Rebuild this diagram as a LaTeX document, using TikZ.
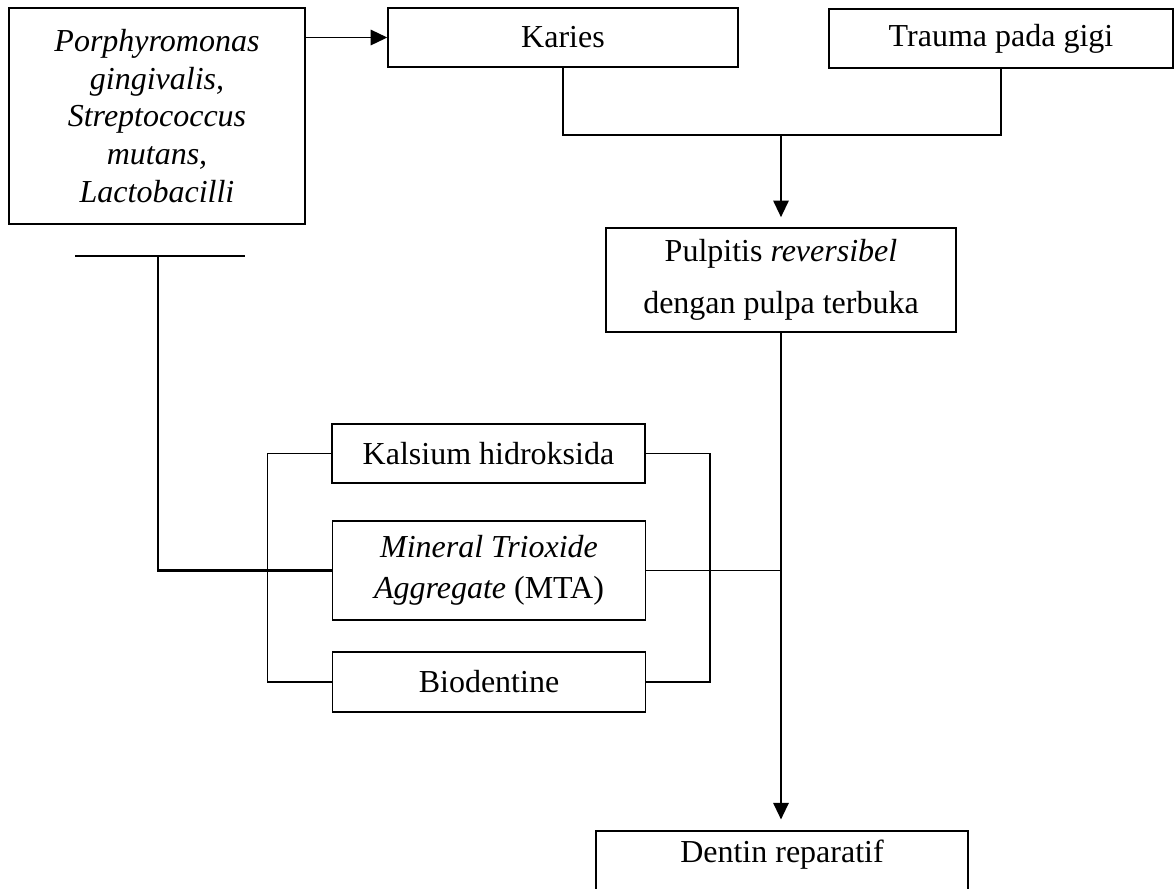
\documentclass[tikz,border=0pt]{standalone}
\usepackage{fontspec}
\setmainfont{Liberation Serif}
\usetikzlibrary{positioning}
\usetikzlibrary{arrows.meta}

\begin{document}
\begin{tikzpicture}
    [
    x=0.375pt, y=-0.375pt,
    box/.style = {draw, line width=0.55pt, align=center, inner sep=0pt, font=\fontsize{12}{14}\selectfont},
    link/.style = {line width=0.55pt},
    arr/.style = {link, -{Triangle[length=6.2pt,width=5.8pt]}}
    ]
\useasboundingbox (0,0) rectangle (1174,888);

\node[box, minimum width=111pt, minimum height=81pt, font=\fontsize{12}{14.1}\selectfont] (bact) at (157,116)
    {\itshape Porphyromonas\\ \itshape gingivalis,\\ \itshape Streptococcus\\ \itshape mutans,\\ \itshape Lactobacilli};
\node[box, minimum width=131.25pt, minimum height=22.1pt] (kar) at (563,37.5) {Karies};
\node[box, minimum width=129pt, minimum height=22.1pt] (trauma) at (1001,38.5) {Trauma pada gigi};
\node[box, minimum width=131.25pt, minimum height=39pt, font=\fontsize{12}{19.5}\selectfont] (pulp) at (781,280)
    {Pulpitis \textit{reversibel}\\ dengan pulpa terbuka};
\node[box, minimum width=117.4pt, minimum height=22.1pt] (kal) at (488.5,453.5) {Kalsium hidroksida};
\node[box, minimum width=117.4pt, minimum height=37.1pt, font=\fontsize{12}{15.4}\selectfont] (mta) at (489,570.5)
    {\textit{Mineral Trioxide}\\ \textit{Aggregate} (MTA)};
\node[box, minimum width=117.4pt, minimum height=22.5pt] (bio) at (489,682) {Biodentine};
\node[box, minimum width=139.5pt, text height=11.6pt, text depth=15pt, anchor=base] (dent) at (782,862) {Dentin reparatif};

% top part
\draw[arr] (bact.east |- kar.west) -- (kar.west);
\coordinate (join) at (781,135);
\draw[link] (kar.south) |- (join) -| (trauma.south);
\draw[arr, shorten >=3.8pt] (join) -- (pulp.north);
\draw[arr, shorten >=4.1pt] (pulp.south) -- (pulp.south |- dent.north);

% bar under the bacteria box
\coordinate (barl) at (75,256);
\coordinate (barr) at (245,256);
\coordinate (barmid) at (158,256);
\draw[link] (barl) -- (barr);
\draw[link, line width=0.8pt] (barmid) |- (mta.west);

% brackets round the materials
\draw[link] (kal.west) -- ++(-64,0) |- (bio.west);
\draw[link] (kal.east) -- ++(64,0) |- (bio.east);
\draw[link] (mta.east) -- (mta.east -| pulp.south);
\end{tikzpicture}
\end{document}
